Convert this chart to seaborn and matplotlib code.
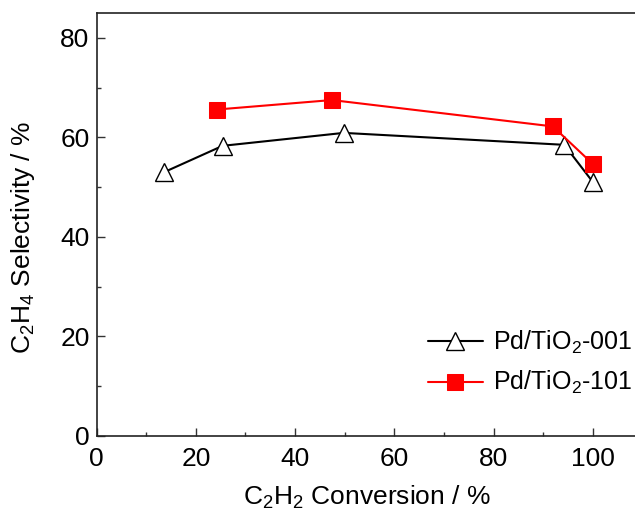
import matplotlib
matplotlib.use("Agg")
import matplotlib.pyplot as plt
from matplotlib.ticker import MultipleLocator
import seaborn as sns

# C2H2 conversion (%) and C2H4 selectivity (%)
conv_001 = [13.6, 25.4, 49.8, 94.2, 99.9]
sel_001 = [53.0, 58.3, 60.9, 58.5, 51.1]
conv_101 = [24.3, 47.4, 91.9, 99.9]
sel_101 = [65.6, 67.5, 62.2, 54.7]
labels = ["Pd/TiO$_2$-001", "Pd/TiO$_2$-101"]

sns.set_style("ticks")
plt.rcParams['font.family'] = ['Liberation Sans', 'DejaVu Sans']
plt.rcParams['mathtext.fontset'] = 'custom'
plt.rcParams['mathtext.rm'] = 'Liberation Sans'
plt.rcParams['mathtext.it'] = 'Liberation Sans:italic'
plt.rcParams['mathtext.default'] = 'regular'
plt.rcParams['text.color'] = 'black'
plt.rcParams['axes.labelcolor'] = 'black'

fig = plt.figure(figsize=(6.35, 5.11), dpi=100)
ax = fig.add_axes([0.152, 0.147, 0.85, 0.8276])

sns.lineplot(x=conv_001, y=sel_001, ax=ax, sort=False, color='black', lw=1.5,
             marker='^', ms=13, mfc='white', mec='black', mew=1.0, label=labels[0])
sns.lineplot(x=conv_101, y=sel_101, ax=ax, sort=False, color='red', lw=1.5,
             marker='s', ms=11, mfc='red', mec='red', label=labels[1])

ax.set_xlim(0, 108.7)
ax.set_ylim(0, 85)
ax.xaxis.set_major_locator(MultipleLocator(20))
ax.xaxis.set_minor_locator(MultipleLocator(10))
ax.yaxis.set_major_locator(MultipleLocator(20))
ax.yaxis.set_minor_locator(MultipleLocator(10))
ax.tick_params(which='both', direction='in', labelsize=19, width=1,
               color='#333333', labelcolor='black')
ax.tick_params(which='major', length=8 * 72 / 100)
ax.tick_params(which='minor', length=4 * 72 / 100)
ax.tick_params(axis='x', pad=8)
ax.tick_params(axis='y', pad=5)
for s in ['left', 'bottom', 'top']:
    ax.spines[s].set_linewidth(1.2)
    ax.spines[s].set_color('#222222')
ax.spines['right'].set_visible(False)

ax.set_xlabel("C$_2$H$_2$ Conversion / %", fontsize=19, labelpad=9)
ax.set_ylabel("C$_2$H$_4$ Selectivity / %", fontsize=19)
ax.yaxis.set_label_coords(-0.11, 0.47)

ax.legend(loc='lower right', frameon=False, fontsize=18, handlelength=2.2,
          handletextpad=0.4, labelspacing=0.55, bbox_to_anchor=(1.034, 0.04))

fig.savefig("out.png", dpi=100)
